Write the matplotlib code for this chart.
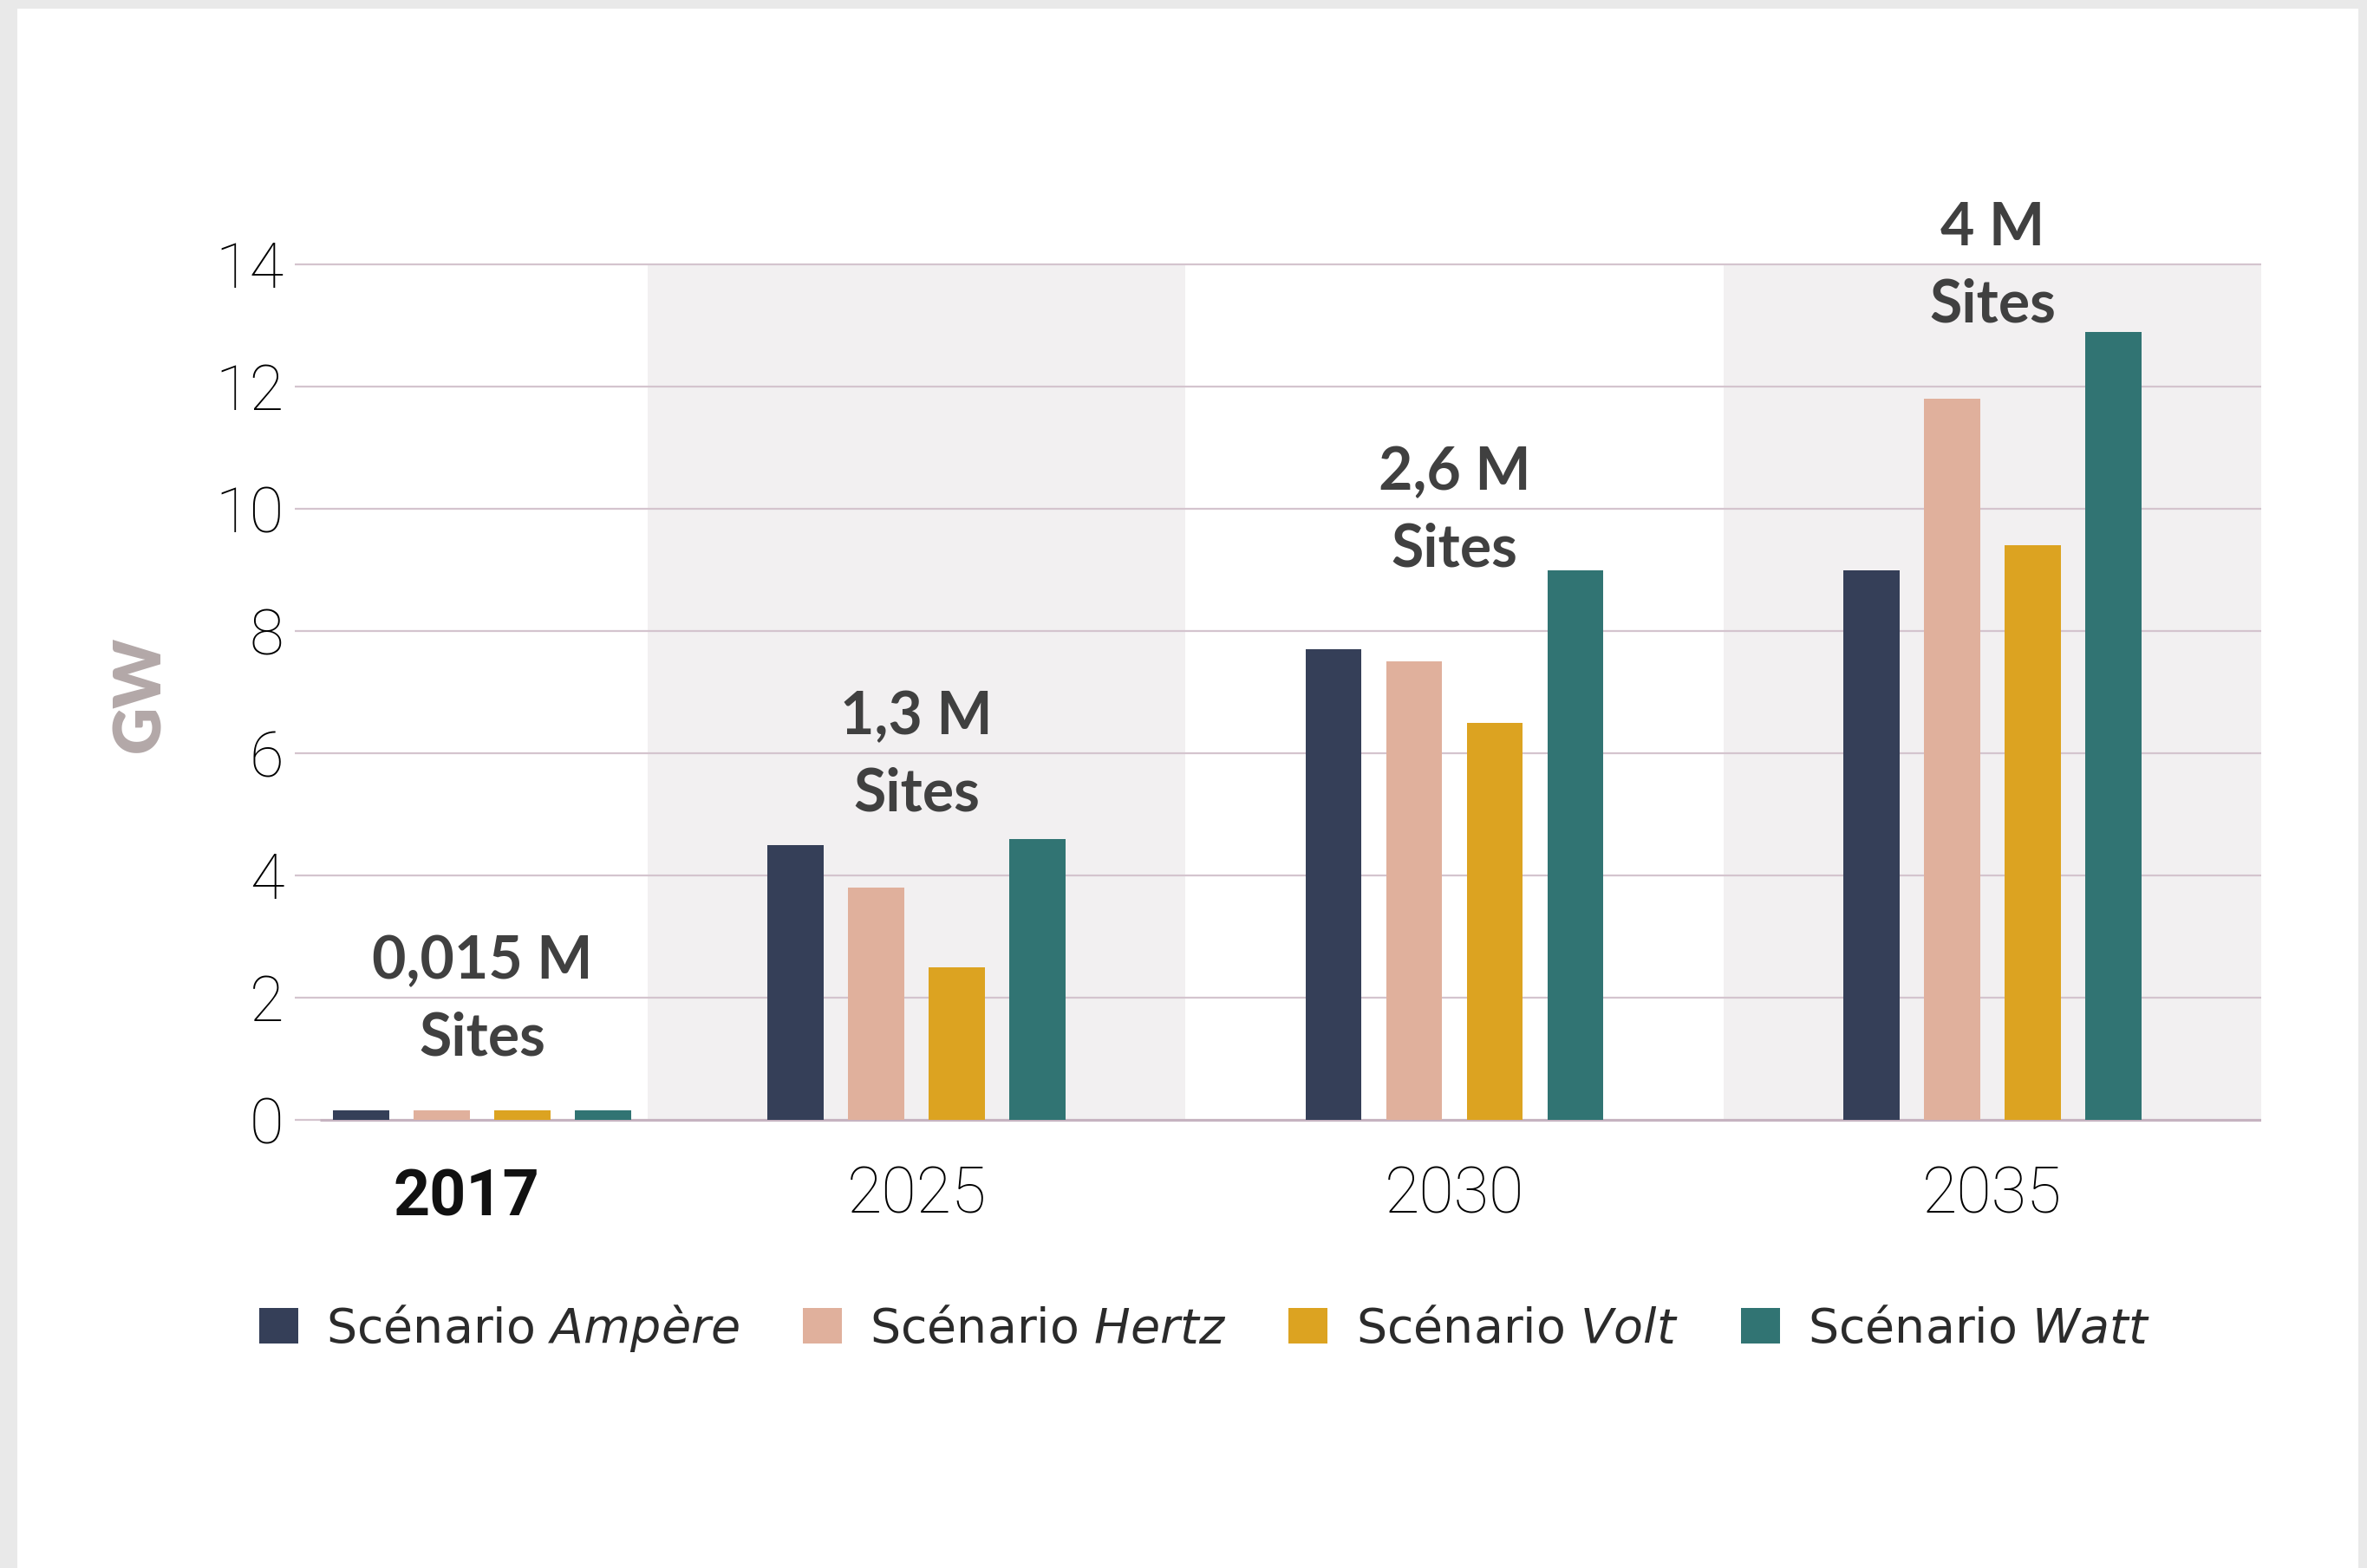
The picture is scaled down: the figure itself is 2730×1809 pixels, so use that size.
import matplotlib
matplotlib.use('Agg')
import matplotlib.pyplot as plt
from matplotlib.patches import Rectangle
from matplotlib.transforms import ScaledTranslation

# ---------------- data ----------------
years = ['2017', '2025', '2030', '2035']
scenarios = ['Ampère', 'Hertz', 'Volt', 'Watt']
ampere = [0.15, 4.5, 7.7, 9.0]
hertz = [0.15, 3.8, 7.5, 11.8]
volt = [0.15, 2.5, 6.5, 9.4]
watt = [0.15, 4.6, 9.0, 12.9]
sites = ['0,015 M', '1,3 M', '2,6 M', '4 M']
yticks = [0, 2, 4, 6, 8, 10, 12, 14]

# ---------------- layout / style ----------------
colors = ['#353f58', '#e0b09c', '#dca321', '#317473']
group_x = [0.192, 1, 2, 3]
bar_w = 0.104
step = 0.150
site_y = [1.33, 5.33, 9.33, 13.33]
THIN = ['Roboto', 'DejaVu Sans']
BOLD = ['Lato', 'DejaVu Sans']

W, H, DPI = 2730, 1809, 100
fig = plt.figure(figsize=(W / DPI, H / DPI), dpi=DPI, facecolor='#e9e9e9')
fig.patches.append(Rectangle((20 / W, 0), 1 - 30 / W, 1 - 10 / H,
                             transform=fig.transFigure, facecolor='white',
                             edgecolor='none', zorder=-10))

ax = fig.add_axes([340 / W, 1 - 1327 / H, (2608 - 340) / W, (1327 - 270) / H])
ax.set_xlim(-0.156, 3.5)
ax.set_ylim(-0.5, 14.5)
ax.set_facecolor('none')
for s in ax.spines.values():
    s.set_visible(False)

# shaded bands
for x0 in [0.5, 2.5]:
    ax.fill_between([x0, x0 + 1.0], 0, 14, color='#f2f0f1', zorder=0, linewidth=0)

# grid
ax.set_yticks(yticks)
ax.yaxis.grid(True, color='#d4c4ce', linewidth=1.6)
ax.set_axisbelow(True)
ax.hlines(0, -0.11, 3.5, color='#c6b3c0', linewidth=2.2, zorder=1)

series = [ampere, hertz, volt, watt]
handles = []
for i, vals in enumerate(series):
    xs = [g + (i - 1.5) * step for g in group_x]
    b = ax.bar(xs, vals, width=bar_w, color=colors[i], zorder=2, linewidth=0)
    handles.append(b)

# site annotations
for x, y, s in zip(group_x, site_y, sites):
    ax.text(x, y + 1.26, s, ha='center', va='center', fontsize=49,
            fontweight='bold', family=BOLD, color='#404040', zorder=5)
    ax.text(x, y, 'Sites', ha='center', va='center', fontsize=49,
            fontweight='bold', family=BOLD, color='#404040', zorder=5)

# ticks
ax.tick_params(axis='y', length=0, pad=9, labelsize=52, labelcolor='#000000')
for lbl in ax.get_yticklabels():
    lbl.set_fontfamily(THIN)
    lbl.set_fontweight('light')
ax.set_xticks(group_x, years)
ax.tick_params(axis='x', length=0, pad=12, labelsize=53, labelcolor='#000000')
for i, lbl in enumerate(ax.get_xticklabels()):
    lbl.set_fontfamily(THIN)
    lbl.set_fontweight('light')
    if i == 0:
        lbl.set_fontweight('bold')
        lbl.set_fontsize(53)
        lbl.set_color('#111111')
        lbl.set_transform(lbl.get_transform() +
                          ScaledTranslation(-18 / DPI, -4 / DPI, fig.dpi_scale_trans))

# y label
fig.text(162 / W, 1 - 801 / H, 'GW', rotation=90, ha='center', va='center',
         fontsize=54, fontweight='heavy', color='#b3a8a8', family=BOLD)

# legend
labels = [r'Scénario $\mathit{' + s + '}$' for s in scenarios]
fig.legend(handles, labels, loc='center', bbox_to_anchor=(0.509, 0.153),
           ncol=4, frameon=False, fontsize=40, handlelength=0.81,
           handleheight=0.75, handletextpad=0.58, columnspacing=1.3,
           labelcolor='#2b2b2b')

fig.savefig('out.png', dpi=DPI, facecolor=fig.get_facecolor())
